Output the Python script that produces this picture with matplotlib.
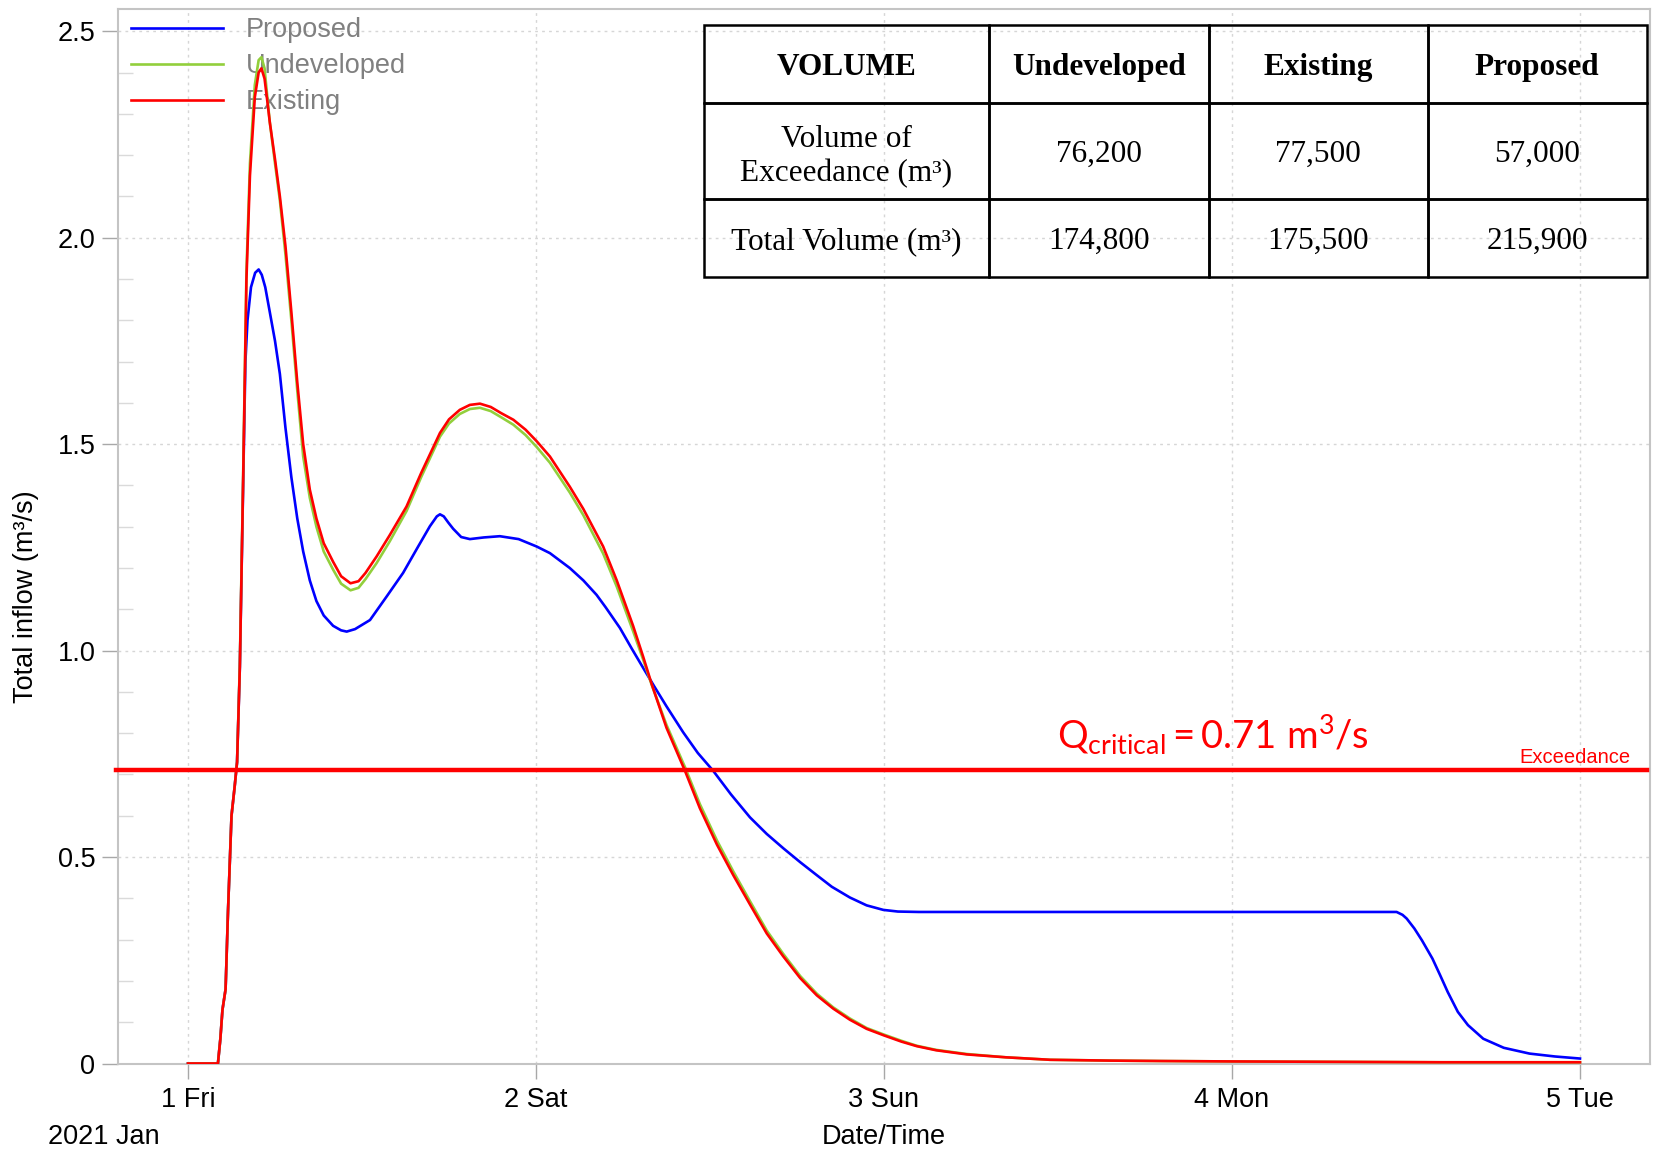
import matplotlib
matplotlib.use("Agg")
import matplotlib.pyplot as plt
from matplotlib.ticker import MultipleLocator

plt.rcParams['font.family'] = ['Liberation Sans', 'DejaVu Sans']
plt.rcParams['mathtext.fontset'] = 'custom'
plt.rcParams['mathtext.rm'] = 'Lato'
plt.rcParams['mathtext.it'] = 'Lato:italic'

# ---- hydrograph data (time in days of January 2021, flow in m3/s) ----
existing_t = [1.000, 1.086, 1.093, 1.099, 1.108, 1.115, 1.125, 1.134, 1.141, 1.149,
              1.158, 1.168, 1.178, 1.192, 1.203, 1.211, 1.220, 1.228, 1.235, 1.250,
              1.264, 1.280, 1.297, 1.314, 1.331, 1.350, 1.369, 1.390, 1.417, 1.440,
              1.467, 1.490, 1.510, 1.542, 1.580, 1.628, 1.670, 1.724, 1.750, 1.781,
              1.810, 1.839, 1.870, 1.900, 1.935, 1.970, 2.002, 2.040, 2.097, 2.136,
              2.193, 2.232, 2.279, 2.308, 2.332, 2.375, 2.428, 2.471, 2.520, 2.567,
              2.615, 2.663, 2.710, 2.759, 2.807, 2.854, 2.902, 2.950, 3.000, 3.050,
              3.094, 3.150, 3.238, 3.350, 3.477, 3.650, 3.800, 4.000, 4.300, 4.600,
              5.000]
existing_q = [0.000, 0.000, 0.060, 0.130, 0.180, 0.370, 0.600, 0.670, 0.730, 0.960,
              1.390, 1.900, 2.150, 2.340, 2.400, 2.410, 2.385, 2.330, 2.280, 2.190,
              2.100, 1.980, 1.820, 1.650, 1.500, 1.390, 1.320, 1.260, 1.215, 1.180,
              1.163, 1.168, 1.188, 1.228, 1.280, 1.349, 1.430, 1.527, 1.560, 1.583,
              1.595, 1.598, 1.590, 1.575, 1.559, 1.535, 1.507, 1.470, 1.397, 1.343,
              1.252, 1.170, 1.060, 0.985, 0.920, 0.813, 0.709, 0.618, 0.530, 0.456,
              0.385, 0.315, 0.260, 0.207, 0.165, 0.133, 0.106, 0.084, 0.068, 0.053,
              0.042, 0.032, 0.022, 0.015, 0.009, 0.007, 0.006, 0.005, 0.004, 0.003,
              0.003]

undeveloped_t = existing_t
undeveloped_q = [0.000, 0.000, 0.060, 0.130, 0.180, 0.370, 0.600, 0.670, 0.730, 0.970,
                 1.400, 1.920, 2.180, 2.370, 2.430, 2.437, 2.410, 2.340, 2.280, 2.180,
                 2.090, 1.960, 1.800, 1.630, 1.470, 1.370, 1.300, 1.240, 1.196, 1.162,
                 1.146, 1.152, 1.173, 1.212, 1.265, 1.338, 1.420, 1.518, 1.550, 1.573,
                 1.585, 1.588, 1.580, 1.565, 1.547, 1.522, 1.493, 1.455, 1.383, 1.328,
                 1.235, 1.155, 1.047, 0.978, 0.918, 0.820, 0.718, 0.628, 0.540, 0.465,
                 0.393, 0.322, 0.266, 0.212, 0.169, 0.136, 0.109, 0.086, 0.070, 0.055,
                 0.043, 0.033, 0.023, 0.015, 0.009, 0.007, 0.006, 0.005, 0.004, 0.003,
                 0.003]

proposed_t = [1.000, 1.086, 1.093, 1.099, 1.108, 1.115, 1.125, 1.134, 1.141, 1.149,
              1.158, 1.165, 1.171, 1.181, 1.193, 1.203, 1.212, 1.222, 1.235, 1.250,
              1.264, 1.280, 1.297, 1.314, 1.331, 1.350, 1.369, 1.390, 1.417, 1.440,
              1.456, 1.480, 1.523, 1.570, 1.618, 1.660, 1.695, 1.715, 1.724, 1.735,
              1.748, 1.762, 1.785, 1.810, 1.850, 1.896, 1.950, 2.002, 2.040, 2.097,
              2.136, 2.174, 2.200, 2.241, 2.275, 2.308, 2.340, 2.375, 2.423, 2.465,
              2.509, 2.560, 2.615, 2.663, 2.711, 2.760, 2.807, 2.850, 2.902, 2.950,
              2.998, 3.040, 3.100, 4.473, 4.490, 4.502, 4.524, 4.546, 4.576, 4.598,
              4.620, 4.649, 4.678, 4.722, 4.781, 4.855, 4.928, 5.000]
proposed_q = [0.000, 0.000, 0.060, 0.130, 0.180, 0.370, 0.600, 0.670, 0.730, 0.960,
              1.380, 1.700, 1.800, 1.880, 1.915, 1.923, 1.910, 1.880, 1.820, 1.750,
              1.670, 1.540, 1.420, 1.320, 1.240, 1.170, 1.120, 1.085, 1.060, 1.049,
              1.046, 1.052, 1.074, 1.130, 1.188, 1.250, 1.301, 1.325, 1.330, 1.325,
              1.310, 1.295, 1.275, 1.270, 1.274, 1.277, 1.270, 1.252, 1.236, 1.200,
              1.170, 1.135, 1.105, 1.055, 1.005, 0.958, 0.913, 0.865, 0.802, 0.752,
              0.709, 0.652, 0.596, 0.556, 0.521, 0.487, 0.456, 0.428, 0.402, 0.383,
              0.372, 0.368, 0.367, 0.367, 0.360, 0.351, 0.327, 0.298, 0.254, 0.214,
              0.173, 0.125, 0.093, 0.060, 0.038, 0.024, 0.017, 0.012]

q_critical = 0.71

day_ticks = [1, 2, 3, 4, 5]
day_labels = ["1 Fri", "2 Sat", "3 Sun", "4 Mon", "5 Tue"]
y_ticks = [0, 0.5, 1.0, 1.5, 2.0, 2.5]
y_labels = ["0", "0.5", "1.0", "1.5", "2.0", "2.5"]

# ---- volume summary table ----
table_header = ["VOLUME", "Undeveloped", "Existing", "Proposed"]
table_rows = ["Volume of\nExceedance (m\u00b3)", "Total Volume (m\u00b3)"]
exceedance_volume = [76200, 77500, 57000]
total_volume = [174800, 175500, 215900]

W, H = 1658, 1160
fig = plt.figure(figsize=(W / 100, H / 100), dpi=100)
ax = fig.add_axes([118.4 / W, 1 - 1063.5 / H, (1649.6 - 118.4) / W, (1063.5 - 8.5) / H])

ax.plot(proposed_t, proposed_q, color="#0000ff", lw=1.9, label="Proposed", zorder=3)
ax.plot(undeveloped_t, undeveloped_q, color="#92cf3c", lw=1.9, label="Undeveloped", zorder=3)
ax.plot(existing_t, existing_q, color="#ff0000", lw=1.9, label="Existing", zorder=3)

ax.axhline(q_critical, xmin=-0.0015, xmax=0.998, color="#ff0000", lw=3.2, zorder=4, clip_on=False)

ax.set_xlim(0.8, 5.2)
ax.set_ylim(0, 2.555)
ax.set_xticks(day_ticks)
ax.set_xticklabels(day_labels)
ax.set_yticks(y_ticks)
ax.set_yticklabels(y_labels)
ax.yaxis.set_minor_locator(MultipleLocator(0.1))

ax.tick_params(axis="x", which="major", direction="out", length=11, width=1,
               color="#a8a8a8", pad=6, labelsize=19.5)
ax.tick_params(axis="y", which="major", direction="out", length=11.5, width=1,
               color="#a8a8a8", pad=5, labelsize=19.5)
ax.tick_params(axis="y", which="minor", direction="in", length=11, width=1, color="#dadada")
ax.tick_params(axis="x", which="minor", length=0)

ax.grid(True, which="major", linestyle=(0, (2, 3)), color="#d6d6d6", lw=1, zorder=0)
ax.set_axisbelow(True)
for s in ax.spines.values():
    s.set_color("#c4c4c4")
    s.set_linewidth(1.5)

leg = ax.legend(loc="upper left", bbox_to_anchor=(131 / W, 1 - 17 / H),
                bbox_transform=fig.transFigure, frameon=False, fontsize=19.5,
                handlelength=3.4, handletextpad=0.85, labelspacing=0.37,
                borderpad=0, borderaxespad=0)
for t in leg.get_texts():
    t.set_color("#808080")
leg.set_zorder(1)

ax.text(3.497, 0.763, r"$\mathrm{Q_{critical}=0.71\ m^{3}/s}$", color="#ff0000",
        fontsize=27.5, ha="left", va="baseline", zorder=5)
ax.text(5.146, 0.727, "Exceedance", color="#ff0000", fontsize=14.5,
        ha="right", va="baseline", zorder=5)

fig.text(26.4 / W, 1 - 597 / H, "Total inflow (m\u00b3/s)", rotation=90,
         ha="center", va="center", fontsize=19.5)
fig.text(884 / W, 1 - 1137 / H, "Date/Time", ha="center", va="center", fontsize=19.5)
fig.text(47.6 / W, 1 - 1137 / H, "2021 Jan", ha="left", va="center", fontsize=19.5)

# table drawn on a transparent overlay spanning the figure
tax = fig.add_axes([0, 0, 1, 1])
tax.axis("off")
tax.set_xlim(0, 1)
tax.set_ylim(0, 1)
cells = [table_header,
         [table_rows[0]] + [f"{v:,}" for v in exceedance_volume],
         [table_rows[1]] + [f"{v:,}" for v in total_volume]]
tl, tr, tt, tb = 704, 1646.5, 25.4, 277
tbl = tax.table(cellText=cells, cellLoc="center",
                bbox=[tl / W, 1 - tb / H, (tr - tl) / W, (tb - tt) / H])
tbl.auto_set_font_size(False)
tbl.set_fontsize(22.5)
col_w = [285, 220, 218.5, 219]
row_h = [77.2, 96.2, 78.2]
for (r, c), cell in tbl.get_celld().items():
    cell.set_width(col_w[c] / 1000)
    cell.set_height(row_h[r] / 1000)
    cell.set_linewidth(1.8)
    cell.set_edgecolor("black")
    cell.set_facecolor("none")
    txt = cell.get_text()
    txt.set_fontfamily("Liberation Serif")
    txt.set_verticalalignment("center_baseline")
    if r == 0:
        txt.set_fontweight("bold")

fig.savefig("out.png", dpi=100)
